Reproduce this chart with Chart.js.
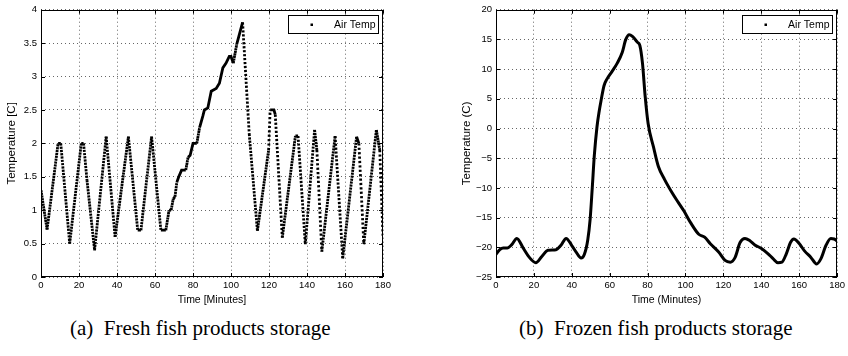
<!DOCTYPE html>
<html>
<head>
<meta charset="utf-8">
<script src="https://cdn.jsdelivr.net/npm/chart.js@4.4.1/dist/chart.umd.min.js"></script>
<style>
  body { margin: 0; background: #fff; }
  #wrap { position: relative; width: 848px; height: 356px; overflow: hidden; }
  .panel { position: absolute; top: 0; height: 312px; }
  .caption {
    position: absolute; top: 316px; white-space: nowrap; color: #000;
    font-family: "Liberation Serif", "Times New Roman", serif; font-size: 21px;
  }
</style>
</head>
<body>
<div id="wrap">
  <div class="panel" style="left:0;width:395px"><canvas id="graficoFresco"></canvas></div>
  <div class="panel" style="left:455px;width:393px"><canvas id="graficoCongelado"></canvas></div>
  <div class="caption" style="left:70px">(a)&nbsp; Fresh fish products storage</div>
  <div class="caption" style="left:519px">(b)&nbsp; Frozen fish products storage</div>
</div>
<script>
// Datos
const timeTicks = [0, 20, 40, 60, 80, 100, 120, 140, 160, 180];
const freshTicks = [0, 0.5, 1, 1.5, 2, 2.5, 3, 3.5, 4];
const frozenTicks = [-25, -20, -15, -10, -5, 0, 5, 10, 15, 20];

const freshTime = [0, 3.2, 9, 10.4, 15.1, 21.2, 22.4, 24.2, 28.2, 34.3, 39, 46, 50.9, 52.6, 58.2, 63.1, 65.7, 67.4, 68.5, 69.6,
  70.5, 71.5, 72.5, 74, 76.2, 77.4, 78.5, 80, 82, 83.5, 85.2, 86, 87.8, 89.6, 92.2, 93.9, 95.7, 97.4, 99.1, 100,
  101.2, 103, 104.3, 106.1, 109.6, 113.9, 119.8, 120.6, 122.6, 123.3, 127, 133.9, 135.3, 139.1, 144, 145.2, 147.8, 154.8, 158.8, 166.1,
  167.3, 169.9, 176.5, 178.3, 180];
const freshTemp = [1.3, 0.71, 2.0, 2.0, 0.5, 2.0, 2.0, 1.45, 0.4, 2.1, 0.6, 2.1, 0.7, 0.7, 2.1, 0.7, 0.7, 1.0, 1.0, 1.17,
  1.2, 1.42, 1.5, 1.6, 1.6, 1.79, 1.82, 2.0, 2.0, 2.24, 2.41, 2.5, 2.53, 2.78, 2.82, 2.9, 3.13, 3.2, 3.3, 3.3,
  3.2, 3.48, 3.62, 3.81, 2.14, 0.69, 1.9, 2.5, 2.5, 2.43, 0.59, 2.11, 2.11, 0.49, 2.2, 1.9, 0.38, 2.11, 0.28, 2.1,
  2.0, 0.49, 2.2, 1.9, 0.6];

const frozenTime = [0, 2, 3.8, 6, 8.2, 11, 14.3, 17.6, 21, 24.3, 27.4, 31.7, 34.4, 37, 40, 42.3, 44.9, 46.6, 48.4, 49.7,
  50.8, 51.9, 53.3, 54.5, 55.5, 57, 58.7, 61, 64, 66.6, 68.5, 70.3, 72, 74.7, 75.9, 77.3, 78.7, 80.3, 83.1, 85.7,
  89, 93.1, 95.7, 99.2, 102.6, 107, 110.1, 113.1, 117.5, 120.9, 123.6, 126.2, 128.8, 131.4, 134, 136.6, 140.1, 143.6, 146.2, 148.8,
  150.9, 153.2, 155.4, 157.2, 160.1, 162.8, 166.2, 169.2, 171.5, 174.1, 176.7, 178.4, 180];
const frozenTemp = [-21.2, -20.4, -20.1, -20.1, -19.6, -18.5, -20.1, -21.7, -22.6, -21.5, -20.5, -20.4, -19.6, -18.5, -19.7, -20.8, -21.8, -21.2, -18.8, -15.2,
  -10, -4.5, 0.3, 3, 4.8, 7.2, 8.4, 9.5, 11, 12.8, 15, 15.8, 15.5, 14.5, 14, 11, 5.5, 0.8, -3.1, -6.4,
  -8.6, -10.9, -12.2, -13.9, -15.8, -17.8, -18.3, -19.4, -20.8, -22.2, -22.5, -21.7, -19.2, -18.5, -18.9, -19.6, -20.2, -21.1, -21.9, -22.6,
  -22.5, -21.1, -19.2, -18.6, -19.4, -20.6, -21.7, -22.8, -21.9, -19.7, -18.5, -18.6, -18.9];

const fuenteEje = '"Liberation Sans Narrow", "Liberation Sans", Arial, sans-serif';
Chart.defaults.font.family = fuenteEje;
Chart.defaults.color = '#000';

// Marco, marcas hacia dentro y leyenda estilo MATLAB
const marcoPlugin = {
  id: 'marco',
  afterDatasetsDraw(chart) {
    const { ctx, chartArea: a, scales } = chart;
    ctx.save();
    ctx.strokeStyle = '#000';
    ctx.lineWidth = 1;
    ctx.setLineDash([]);
    ctx.beginPath();
    scales.x.ticks.forEach(t => {
      const px = Math.round(scales.x.getPixelForValue(t.value)) + 0.5;
      ctx.moveTo(px, a.bottom); ctx.lineTo(px, a.bottom - 4);
      ctx.moveTo(px, a.top); ctx.lineTo(px, a.top + 4);
    });
    scales.y.ticks.forEach(t => {
      const py = Math.round(scales.y.getPixelForValue(t.value)) + 0.5;
      ctx.moveTo(a.left, py); ctx.lineTo(a.left + 4, py);
      ctx.moveTo(a.right, py); ctx.lineTo(a.right - 4, py);
    });
    ctx.stroke();
    ctx.strokeRect(Math.round(a.left) + 0.5, Math.round(a.top) + 0.5, Math.round(a.width) - 1, Math.round(a.height) - 1);

    // leyenda
    const w = 90, h = 18;
    const x = Math.round(a.right - 5 - w) + 0.5, y = Math.round(a.top + 5) + 0.5;
    ctx.fillStyle = '#fff';
    ctx.fillRect(x, y, w, h);
    ctx.strokeRect(x, y, w, h);
    ctx.fillStyle = '#000';
    ctx.fillRect(x + 22, y + 8, 2.5, 2.5);
    ctx.font = '10.5px ' + fuenteEje;
    ctx.textAlign = 'right';
    ctx.textBaseline = 'middle';
    ctx.fillText(chart.data.datasets[0].label, x + w - 3, y + h / 2 + 0.5);
    ctx.restore();
  }
};

function escalas(yTicks, yMin, yMax, xTitulo, yTitulo) {
  const grid = { color: 'rgba(0,0,0,0.6)', lineWidth: 1, drawTicks: false };
  const borde = { display: false, dash: [1, 3] };
  return {
    x: {
      type: 'linear', min: 0, max: 180,
      afterBuildTicks: s => { s.ticks = timeTicks.map(v => ({ value: v })); },
      afterFit: s => { s.height = 35; },
      grid, border: borde,
      ticks: { padding: 3, font: { size: 9.5 }, maxRotation: 0 },
      title: { display: true, text: xTitulo, padding: { top: 0, bottom: 6 },
        font: { size: 10.5, family: '"Liberation Sans", Arial, sans-serif' } }
    },
    y: {
      type: 'linear', min: yMin, max: yMax,
      afterBuildTicks: s => { s.ticks = yTicks.map(v => ({ value: v })); },
      afterFit: s => { s.width = 41; },
      grid, border: borde,
      ticks: { padding: 4, font: { size: 9.5 }, callback: v => String(v).replace('-', '\u2212') },
      title: { display: true, text: yTitulo, padding: { top: 5, bottom: 0 },
        font: { size: 11.5, family: '"Liberation Sans", Arial, sans-serif' } }
    }
  };
}

// Gráfico (a): los tramos inclinados se ven como puntos separados
function renderFresco() {
  const ctx = document.getElementById('graficoFresco').getContext('2d');
  new Chart(ctx, {
    type: 'line',
    data: {
      datasets: [{
        label: 'Air Temp',
        data: freshTime.map((t, i) => ({ x: t, y: freshTemp[i] })),
        borderColor: '#000',
        borderWidth: 2.8,
        pointRadius: 0,
        tension: 0,
        segment: {
          borderDash: c => {
            const dx = Math.abs(c.p1.x - c.p0.x) || 0.01;
            const pendiente = Math.abs(c.p1.y - c.p0.y) / dx;
            if (pendiente < 5) return undefined;
            return [2.2, Math.min(2.2, 0.35 + (pendiente - 5) * 0.12)];
          }
        }
      }]
    },
    options: {
      responsive: true, maintainAspectRatio: false, animation: false,
      layout: { padding: { top: 8, right: 12, left: 0, bottom: 0 } },
      plugins: { legend: { display: false }, tooltip: { enabled: false } },
      scales: escalas(freshTicks, 0, 4, 'Time [Minutes]', 'Temperature [C]')
    },
    plugins: [marcoPlugin]
  });
}

// Gráfico (b)
function renderCongelado() {
  const ctx = document.getElementById('graficoCongelado').getContext('2d');
  new Chart(ctx, {
    type: 'line',
    data: {
      datasets: [{
        label: 'Air Temp',
        data: frozenTime.map((t, i) => ({ x: t, y: frozenTemp[i] })),
        borderColor: '#000',
        borderWidth: 3,
        pointRadius: 0,
        cubicInterpolationMode: 'monotone'
      }]
    },
    options: {
      responsive: true, maintainAspectRatio: false, animation: false,
      layout: { padding: { top: 9, right: 9, left: 0, bottom: 0 } },
      plugins: { legend: { display: false }, tooltip: { enabled: false } },
      scales: escalas(frozenTicks, -25, 20, 'Time (Minutes)', 'Temperature (C)')
    },
    plugins: [marcoPlugin]
  });
}

renderFresco();
renderCongelado();
</script>
</body>
</html>
